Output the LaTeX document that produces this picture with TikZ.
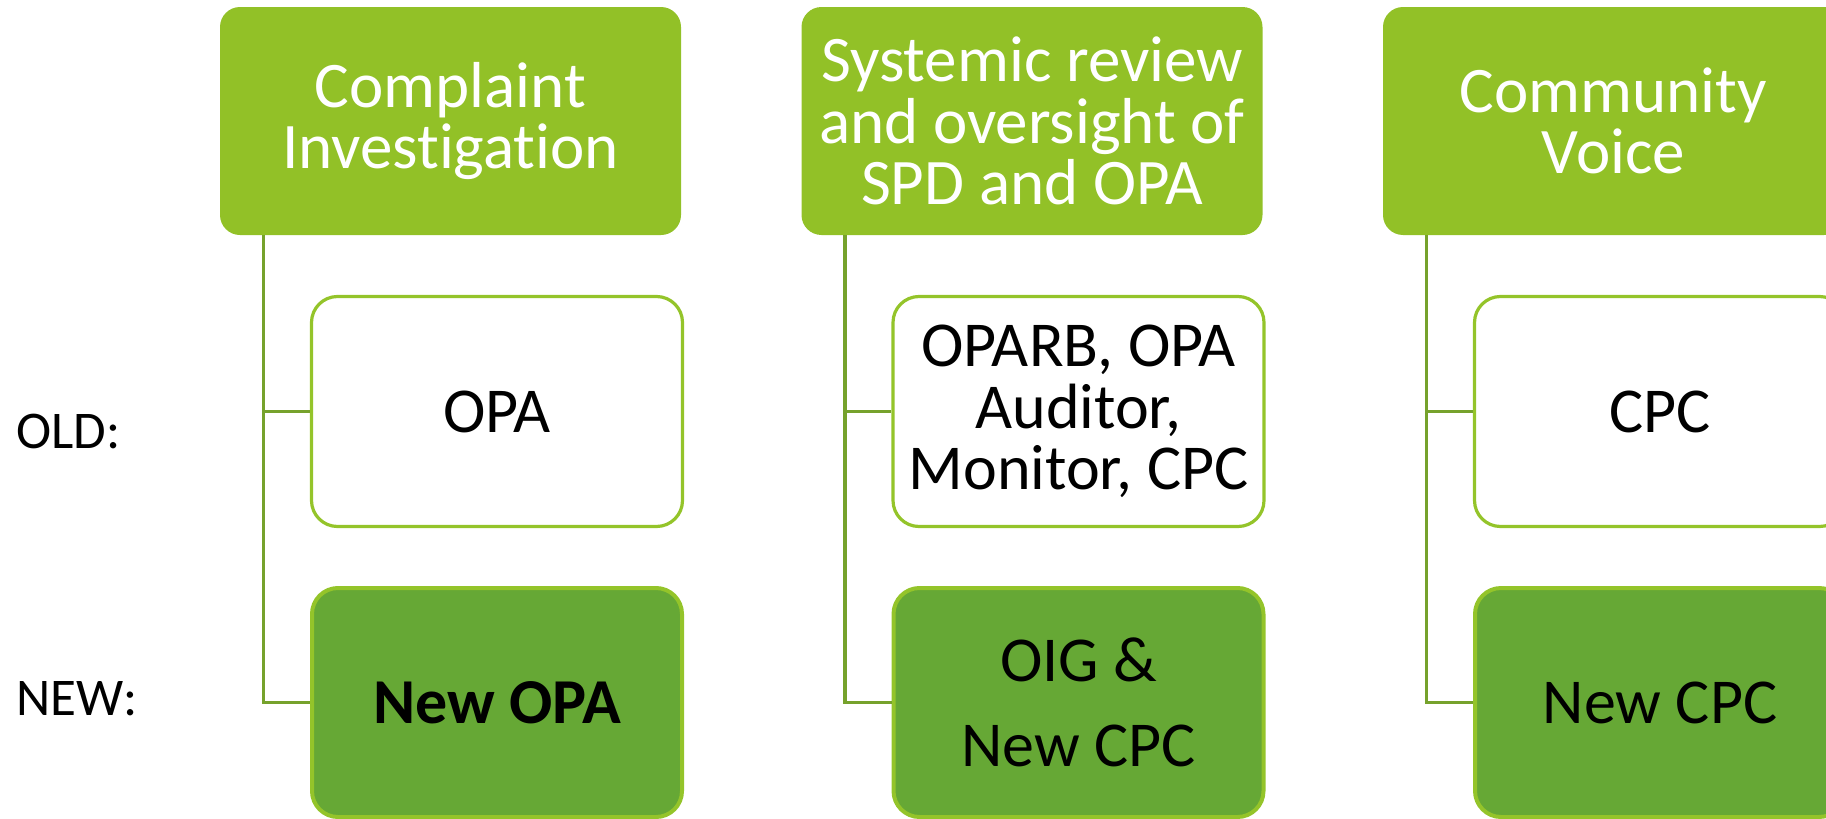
\documentclass[tikz,border=0pt]{standalone}
\usepackage{fontspec}
\setmainfont{Carlito}[Ligatures=NoCommon]
\usetikzlibrary{calc}
\definecolor{hdr}{HTML}{92C127}
\definecolor{newfill}{HTML}{66A835}
\definecolor{bord}{HTML}{94C42A}
\definecolor{connc}{HTML}{76A22C}
\begin{document}
\begin{tikzpicture}[x=0.5pt,y=-0.5pt,
  hdrbox/.style={draw=none, fill=hdr, rounded corners=10pt, minimum width=230.5pt, minimum height=114pt,
    text=white, align=center, inner sep=0pt, font=\fontsize{32.5}{30.75}\selectfont},
  oldbox/.style={draw=bord, line width=1.6pt, fill=white, rounded corners=13pt, minimum width=185.5pt,
    minimum height=115pt, text=black, align=center, inner sep=0pt, font=\fontsize{32}{30.75}\selectfont},
  newbox/.style={draw=bord, line width=2pt, fill=newfill, rounded corners=13pt, minimum width=185pt,
    minimum height=114.5pt, text=black, align=center, inner sep=0pt, font=\fontsize{32}{30.75}\selectfont},
  rowlabel/.style={anchor=base west, inner sep=0pt, font=\fontsize{26.5}{30}\selectfont},
  connline/.style={draw=connc, line width=1.7pt}
]
\useasboundingbox (0,0) rectangle (1826,819);
\clip (0,0) rectangle (1826,819);

% column 1
\node[hdrbox] (h1) at (450.5,121) {Complaint\\Investigation};
\node[oldbox] (o1) at (497,411.5) {OPA};
\node[newbox] (n1) at (497,702.5) {\bfseries New OPA};

% column 2
\node[hdrbox] (h2) at (1032,121) {Systemic review\\and oversight of\\SPD and OPA};
\node[oldbox] (o2) at (1078.5,411.5) {OPARB, OPA\\Auditor,\\Monitor, CPC};
\node[newbox, font=\fontsize{32}{42.5}\selectfont] (n2) at (1078.5,702.5) {OIG \&\\New CPC};

% column 3
\node[hdrbox] (h3) at (1613.5,121) {Community\\Voice};
\node[oldbox] (o3) at (1660,411.5) {CPC};
\node[newbox] (n3) at (1660,702.5) {New CPC};

% row labels
\node[rowlabel] (lold) at (16,448) {OLD:};
\node[rowlabel] (lnew) at (16,715) {NEW:};

% connectors
\foreach \i in {1,2,3}{
  \coordinate (v\i) at ($(h\i.south west)+(44,0)$);
  \draw[connline] (v\i) |- (n\i.west);
  \draw[connline] (v\i |- o\i.west) -- (o\i.west);
}
\end{tikzpicture}
\end{document}
